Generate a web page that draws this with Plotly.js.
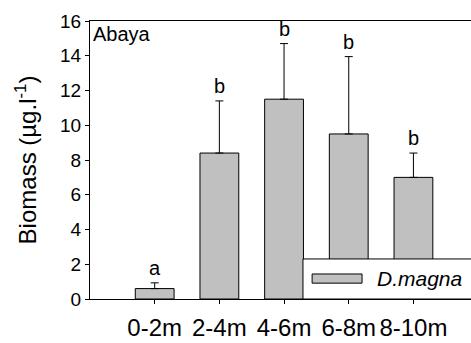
<!DOCTYPE html>
<html>
<head>
<meta charset="utf-8">
<script src="https://cdn.plot.ly/plotly-3.0.1.min.js"></script>
<style>html,body{margin:0;padding:0;background:#fff;overflow:hidden}</style>
</head>
<body>
<div id="chart" style="width:471px;height:343px"></div>
<script>
var depths = ["0-2m", "2-4m", "4-6m", "6-8m", "8-10m"];
var biomass = [0.6, 8.4, 11.5, 9.5, 7.0];
var errorPlus = [0.33, 3.0, 3.2, 4.45, 1.4];
var letters = ["a", "b", "b", "b", "b"];
var seriesName = "D.magna";
var siteLabel = "Abaya";
var yTicks = [0, 2, 4, 6, 8, 10, 12, 14, 16];

var FONT = "Arial, 'Liberation Sans', sans-serif";

var trace = {
  type: "bar",
  x: depths,
  y: biomass,
  name: seriesName,
  width: 0.6,
  marker: {color: "#c0c0c0", line: {color: "#000", width: 1}},
  error_y: {type: "data", symmetric: false, array: errorPlus,
            arrayminus: biomass.map(function(){return 0;}),
            color: "#000", thickness: 1, width: 4},
  showlegend: false
};

var annotations = depths.map(function(d, i) {
  return {x: d, y: biomass[i] + errorPlus[i], xref: "x", yref: "y",
          text: letters[i], showarrow: false, yanchor: "bottom", yshift: 2,
          font: {family: FONT, size: 20, color: "#000"}};
});
annotations.push({xref: "paper", yref: "paper", x: 0.003, y: 1.0,
  xanchor: "left", yanchor: "top", text: siteLabel, showarrow: false,
  font: {family: FONT, size: 20, color: "#000"}});
annotations.push({xref: "paper", yref: "paper", x: 0.748, y: 0.072,
  xanchor: "left", yanchor: "middle", text: "<i>" + seriesName + "</i>", showarrow: false,
  font: {family: FONT, size: 21, color: "#000"}});

var layout = {
  width: 471, height: 343,
  margin: {l: 90, r: 0, t: 21, b: 44},
  paper_bgcolor: "#fff", plot_bgcolor: "#fff",
  font: {family: FONT, color: "#000"},
  xaxis: {
    type: "category", range: [-1.0, 4.89],
    showline: true, linecolor: "#000", linewidth: 1, mirror: true,
    ticks: "outside", ticklen: 4, tickcolor: "#000",
    ticklabelstandoff: 3,
    tickfont: {family: FONT, size: 24, color: "#000"},
    showgrid: false, zeroline: false
  },
  yaxis: {
    range: [0, 16], tickvals: yTicks, ticktext: yTicks.map(String),
    showline: true, linecolor: "#000", linewidth: 1,
    ticks: "outside", ticklen: 4, tickcolor: "#000",
    tickfont: {family: FONT, size: 19, color: "#000"},
    showgrid: false, zeroline: false,
    title: {text: "Biomass (µg.l<sup>-1</sup>)", font: {family: FONT, size: 24, color: "#000"}, standoff: 16}
  },
  shapes: [
    {type: "rect", xref: "paper", yref: "paper", x0: 0.559, x1: 1.05, y0: 0, y1: 0.144,
     fillcolor: "#fff", line: {color: "#000", width: 1}, layer: "above"},
    {type: "rect", xref: "paper", yref: "paper", x0: 0.583, x1: 0.714, y0: 0.057, y1: 0.09,
     fillcolor: "#c0c0c0", line: {color: "#000", width: 1}, layer: "above"}
  ],
  annotations: annotations,
  showlegend: false,
  bargap: 0.4
};

Plotly.newPlot("chart", [trace], layout, {displayModeBar: false, staticPlot: true});
</script>
</body>
</html>
